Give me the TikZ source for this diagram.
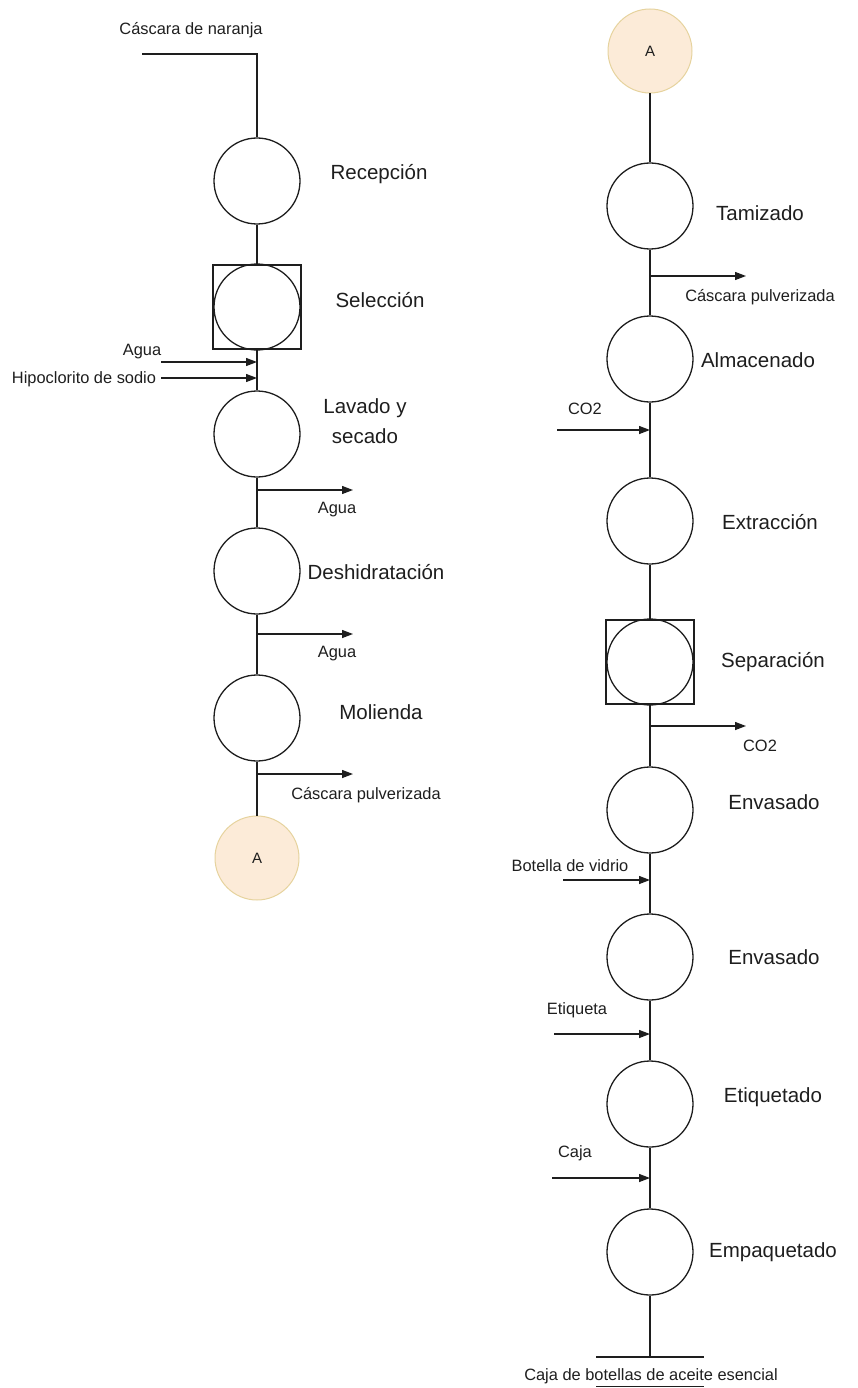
\documentclass[tikz,border=0pt]{standalone}
\usepackage{fontspec}
\setmainfont{Liberation Sans}
\usetikzlibrary{arrows.meta}
\definecolor{connfill}{HTML}{FCEBD8}
\definecolor{connborder}{HTML}{E6D39E}
\definecolor{ink}{HTML}{1E1E1E}
\begin{document}
\begin{tikzpicture}[x=1pt,y=-1pt,
  stage/.style={circle,draw=ink,line width=1.3pt,minimum size=86pt,inner sep=0pt},
  squarebox/.style={rectangle,draw=ink,line width=1.3pt,minimum width=88pt,minimum height=84pt,inner sep=0pt},
  conn/.style={circle,draw=connborder,fill=connfill,line width=1pt,minimum size=84pt,inner sep=0pt,font=\fontsize{15}{18}\selectfont,text=ink},
  big/.style={font=\fontsize{20.5}{30}\selectfont,inner sep=0pt,text=ink,align=center},
  small/.style={font=\fontsize{16.4}{20}\selectfont,inner sep=0pt,text=ink},
  flow/.style={draw=ink,line width=1.3pt},
  side/.style={draw=ink,line width=1.3pt,-{Triangle[length=11pt,width=8pt]}},
]
\useasboundingbox (0,0) rectangle (858,1388);

% ---------- left column ----------
\node[stage] (rec) at (257,181) {};
\node[squarebox] (selbox) at (257,307) {};
\node[stage] (sel) at (257,307) {};
\node[stage] (lav) at (257,434) {};
\node[stage] (des) at (257,571) {};
\node[stage] (mol) at (257,718) {};
\node[conn] (ca) at (257,858) {A};

\node[big] (lrec) at (379,174) {Recepción};
\node[big] (lsel) at (380,300) {Selección};
\node[big] (llav) at (365,421) {Lavado y\\secado};
\node[big] (ldes) at (376,572) {Deshidratación};
\node[big] (lmol) at (381,712) {Molienda};

% raw material input
\coordinate (inA) at (142,54);
\coordinate (inB) at (257,54);
\node[small] (lin) at (191,30) {Cáscara de naranja};
\draw[flow] (inA) -- (inB) -- (rec.north);

\draw[flow] (rec.south) -- (selbox.north);
\draw[flow] (selbox.south) -- (lav.north);
\draw[flow] (lav.south) -- (des.north);
\draw[flow] (des.south) -- (mol.north);
\draw[flow] (mol.south) -- (ca.north);

% washing inputs
\coordinate (aguaS) at (161,362);
\coordinate (aguaE) at (257,362);
\coordinate (hipS) at (161,378);
\coordinate (hipE) at (257,378);
\node[small] (lagua) at (142,352) {Agua};
\node[small] (lhip) at (84,379) {Hipoclorito de sodio};
\draw[side] (aguaS) -- (aguaE);
\draw[side] (hipS) -- (hipE);

% left outputs
\coordinate (o1S) at (257,490);
\coordinate (o1E) at (353,490);
\coordinate (o2S) at (257,634);
\coordinate (o2E) at (353,634);
\coordinate (o3S) at (257,774);
\coordinate (o3E) at (353,774);
\draw[side] (o1S) -- (o1E);
\draw[side] (o2S) -- (o2E);
\draw[side] (o3S) -- (o3E);
\node[small] (lo1) at (337,510) {Agua};
\node[small] (lo2) at (337,654) {Agua};
\node[small] (lo3) at (366,795) {Cáscara pulverizada};

% ---------- right column ----------
\node[conn] (cb) at (650,51) {A};
\node[stage] (tam) at (650,206) {};
\node[stage] (alm) at (650,359) {};
\node[stage] (ext) at (650,521) {};
\node[squarebox] (sepbox) at (650,662) {};
\node[stage] (sep) at (650,662) {};
\node[stage] (env) at (650,810) {};
\node[stage] (env2) at (650,957) {};
\node[stage] (eti) at (650,1104) {};
\node[stage] (emp) at (650,1252) {};

\node[big] (ltam) at (760,213) {Tamizado};
\node[big] (lalm) at (758,360) {Almacenado};
\node[big] (lext) at (770,522) {Extracción};
\node[big] (lsep) at (773,662) {Separación};
\node[big] (lenv) at (774,802) {Envasado};
\node[big] (lenv2) at (774,957) {Envasado};
\node[big] (leti) at (773,1097) {Etiquetado};
\node[big] (lemp) at (773,1252) {Empaquetado};

\draw[flow] (cb.south) -- (tam.north);
\draw[flow] (tam.south) -- (alm.north);
\draw[flow] (alm.south) -- (ext.north);
\draw[flow] (ext.south) -- (sepbox.north);
\draw[flow] (sepbox.south) -- (env.north);
\draw[flow] (env.south) -- (env2.north);
\draw[flow] (env2.south) -- (eti.north);
\draw[flow] (eti.south) -- (emp.north);

% right outputs
\coordinate (r1S) at (650,276);
\coordinate (r1E) at (746,276);
\coordinate (r2S) at (650,726);
\coordinate (r2E) at (746,726);
\draw[side] (r1S) -- (r1E);
\draw[side] (r2S) -- (r2E);
\node[small] (lr1) at (760,297) {Cáscara pulverizada};
\node[small] (lr2) at (760,746) {CO2};

% right inputs
\coordinate (i1S) at (557,430);
\coordinate (i1E) at (650,430);
\coordinate (i2S) at (563,880);
\coordinate (i2E) at (650,880);
\coordinate (i3S) at (554,1034);
\coordinate (i3E) at (650,1034);
\coordinate (i4S) at (552,1178);
\coordinate (i4E) at (650,1178);
\draw[side] (i1S) -- (i1E);
\draw[side] (i2S) -- (i2E);
\draw[side] (i3S) -- (i3E);
\draw[side] (i4S) -- (i4E);
\node[small] (li1) at (585,409) {CO2};
\node[small] (li2) at (570,866) {Botella de vidrio};
\node[small] (li3) at (577,1010) {Etiqueta};
\node[small] (li4) at (575,1153) {Caja};

% final product
\coordinate (endP) at (650,1357);
\coordinate (endL) at (596,1357);
\coordinate (endR) at (704,1357);
\coordinate (ulL) at (596,1386);
\coordinate (ulR) at (704,1386);
\draw[flow] (emp.south) -- (endP);
\draw[flow] (endL) -- (endR);
\draw[draw=ink,line width=1pt] (ulL) -- (ulR);
\node[small] (lend) at (651,1376) {Caja de botellas de aceite esencial};
\end{tikzpicture}
\end{document}
